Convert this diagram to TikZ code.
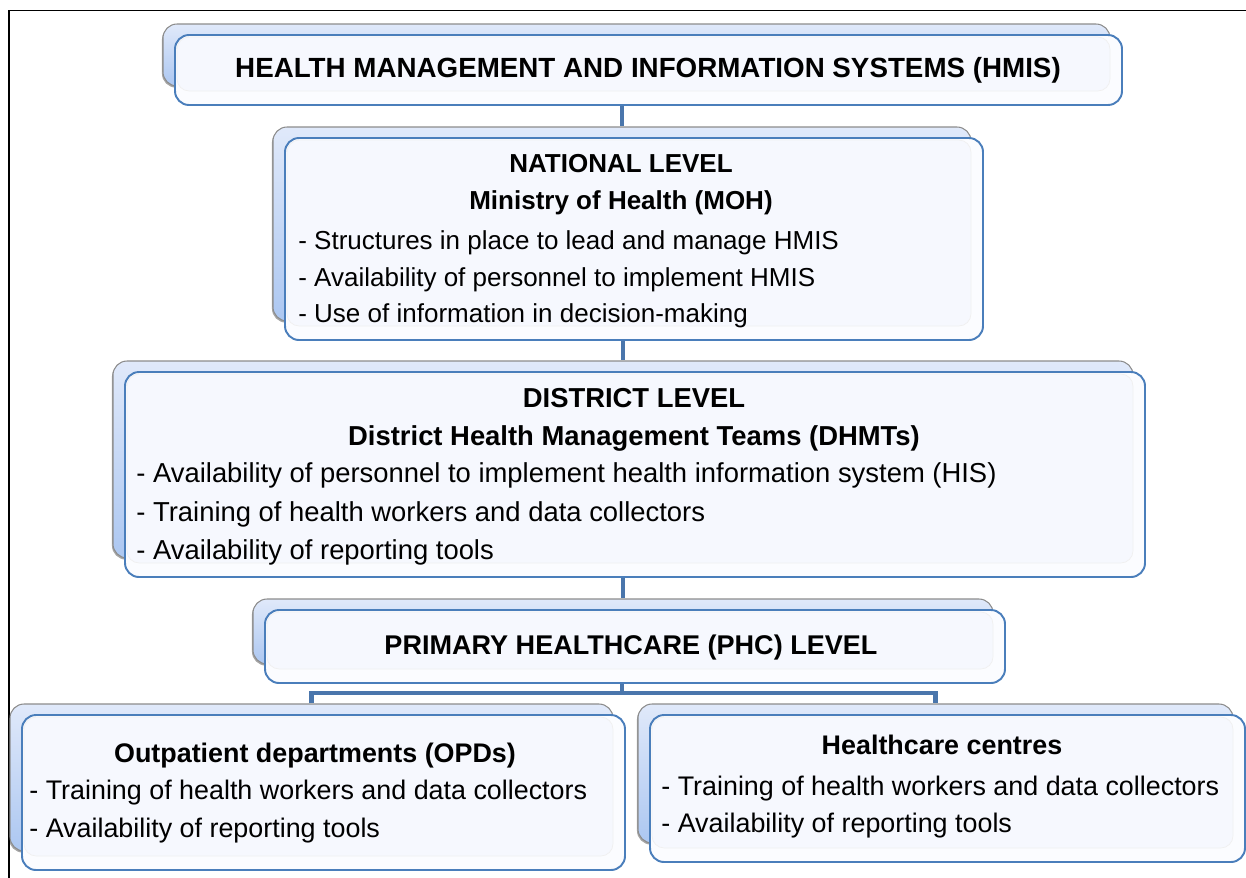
\documentclass[tikz,border=0pt]{standalone}
\usepackage{fontspec}
\setmainfont{Liberation Sans}
\usetikzlibrary{shadows}

\definecolor{cardblue}{RGB}{74,126,187}
\definecolor{linkblue}{RGB}{74,118,172}
\definecolor{backtop}{RGB}{224,233,250}
\definecolor{backbot}{RGB}{172,199,241}
\definecolor{panel}{RGB}{246,248,254}

\tikzset{
  backcard/.style={rounded corners=8pt, draw=black!45, line width=0.6pt,
    top color=backtop, bottom color=backbot, inner sep=0pt,
    drop shadow={shadow xshift=-0.6pt, shadow yshift=-0.9pt, opacity=0.35, fill=black}},
  frontcard/.style={rounded corners=8pt, draw=cardblue, line width=1.1pt,
    fill=white!60!panel, inner sep=0pt},
  innercard/.style={rounded corners=7pt, draw=black!6, fill=panel, inner sep=0pt},
  link/.style={draw=linkblue, line width=2.8pt},
  head/.style={font=\fontsize{#1}{18}\selectfont\bfseries, inner sep=0pt, anchor=base},
  head/.default=14.8,
  itemline/.style={font=\fontsize{#1}{18}\selectfont, inner sep=0pt, anchor=base west},
  itemline/.default=14.8,
}

% back card, front card and inner panel from the front corners
\newcommand{\card}[5]{%
  \node[backcard, minimum width={(#4-#2)*0.02cm}, minimum height={(#5-#3-8)*0.02cm}]
    (#1bk) at ({(#2+#4)/2-12},{(#3+#5)/2-15}) {};
  \node[frontcard, minimum width={(#4-#2)*0.02cm}, minimum height={(#5-#3)*0.02cm}]
    (#1) at ({(#2+#4)/2},{(#3+#5)/2}) {};
  \node[innercard, minimum width={(#4-#2-14)*0.02cm}, minimum height={(#5-#3-16)*0.02cm}]
    (#1in) at ({(#2+#4)/2-5},{(#3+#5)/2-6}) {};
}

\begin{document}
\begin{tikzpicture}[x=0.02cm, y=-0.02cm]
  \clip (0,0) rectangle (1246,877);
  \draw[line width=1.1pt] (9,10.5) rectangle (1300,950);

  % cards
  \card{hmis}{175}{35}{1122}{105}
  \card{nat}{285}{138}{983}{340}
  \card{dist}{125}{372}{1145}{577}
  \card{phc}{265}{610}{1005}{683}
  \card{opd}{22}{715}{625}{870}
  \card{hc}{650}{715}{1245}{862}

  % texts
  \node[head=15.8] (hmist) at (648,77) {HEALTH MANAGEMENT AND INFORMATION SYSTEMS (HMIS)};

  \node[head] (natt1) at (621,172) {NATIONAL LEVEL};
  \node[head] (natt2) at (621,209) {Ministry of Health (MOH)};
  \node[itemline] (natb1) at (298,249) {- Structures in place to lead and manage HMIS};
  \node[itemline] (natb2) at (298,286) {- Availability of personnel to implement HMIS};
  \node[itemline] (natb3) at (298,322) {- Use of information in decision-making};

  \node[head=15.6] (distt1) at (634,407) {DISTRICT LEVEL};
  \node[head=15.6] (distt2) at (634,445) {District Health Management Teams (DHMTs)};
  \node[itemline=15.6] (distb1) at (136,482) {- Availability of personnel to implement health information system (HIS)};
  \node[itemline=15.6] (distb2) at (136,521) {- Training of health workers and data collectors};
  \node[itemline=15.6] (distb3) at (136,559) {- Availability of reporting tools};

  \node[head=15.4] (phct) at (631,654) {PRIMARY HEALTHCARE (PHC) LEVEL};

  \node[head=15.3] (opdt) at (315,762) {Outpatient departments (OPDs)};
  \node[itemline=15.3] (opdb1) at (29,799) {- Training of health workers and data collectors};
  \node[itemline=15.3] (opdb2) at (29,837) {- Availability of reporting tools};

  \node[head=15.3] (hct) at (942,754) {Healthcare centres};
  \node[itemline=15.3] (hcb1) at (661,795) {- Training of health workers and data collectors};
  \node[itemline=15.3] (hcb2) at (661,832) {- Availability of reporting tools};

  % connectors
  \draw[link] (hmis.south -| natbk.north) -- (natbk.north);
  \draw[link] (nat.south -| distbk.north) -- (distbk.north);
  \draw[link] (dist.south -| phcbk.north) -- (phcbk.north);
  \coordinate (split) at (622,693);
  \draw[link] (phc.south -| split) -- (split);
  \draw[link] (opdbk.north) |- (split) -| (hcbk.north);
\end{tikzpicture}
\end{document}
